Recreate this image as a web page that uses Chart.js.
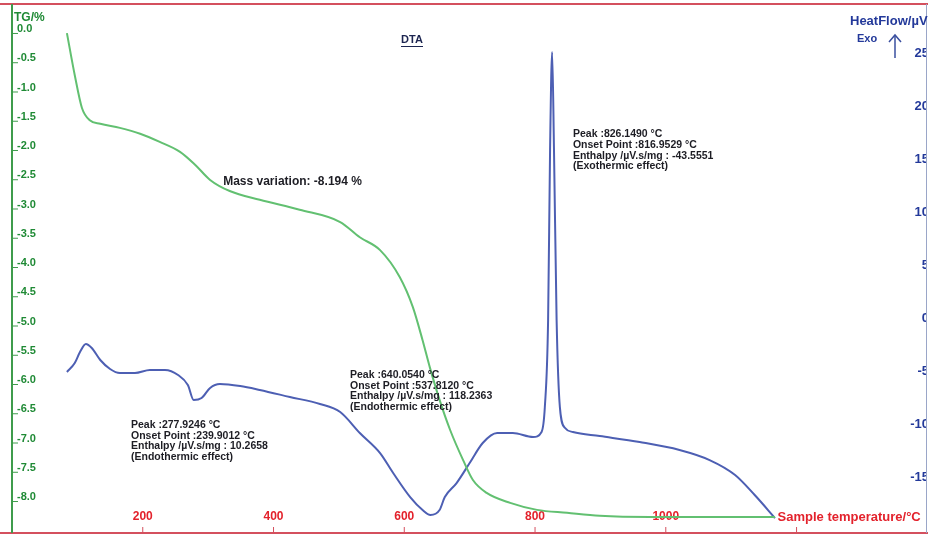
<!DOCTYPE html>
<html>
<head>
<meta charset="utf-8">
<title>TG / DTA</title>
<script src="https://cdn.jsdelivr.net/npm/chart.js@4.4.1/dist/chart.umd.min.js"></script>
<style>
  html, body { margin: 0; padding: 0; background: #ffffff; }
  #wrap { width: 928px; height: 536px; position: relative; }
</style>
</head>
<body>
<div id="wrap"><canvas id="c" width="928" height="536"></canvas></div>
<script>
// Thermogravimetric curve: sample temperature (°C) and mass change (%)
const tgTemp = [84, 96, 107, 119, 135, 165, 196, 226, 257, 280, 303, 333, 379, 440, 502, 532, 563,
  593, 613, 628, 639, 654, 670, 690, 705, 726, 762, 803, 849, 899, 976, 1052, 1167];
const tgMass = [-0.07, -0.79, -1.35, -1.56, -1.62, -1.69, -1.79, -1.93, -2.10, -2.32, -2.58, -2.77, -2.92,
  -3.09, -3.30, -3.56, -3.78, -4.24, -4.75, -5.32, -5.78, -6.34, -6.85, -7.37, -7.71, -7.93, -8.10,
  -8.22, -8.27, -8.32, -8.34, -8.34, -8.34];

// DTA curve: sample temperature (°C) and heat flow (µV)
const dtaTemp = [84, 96, 104, 113, 122, 135, 150, 165, 188, 211, 234, 254, 269, 277.9, 290, 303, 318,
  349, 379, 425, 471, 502, 532, 563, 583, 609, 628, 640.05, 654, 662, 680, 700, 720, 742, 766, 797,
  810, 815, 820, 823, 826.15, 829, 833, 838, 846, 858, 899, 960, 1021, 1067, 1106, 1136, 1167];
const dtaFlow = [-5.09, -4.25, -3.21, -2.45, -2.83, -3.96, -4.81, -5.19, -5.19, -4.91, -4.91, -5.38, -6.32,
  -7.74, -7.55, -6.60, -6.23, -6.42, -6.79, -7.45, -8.11, -8.87, -10.85, -12.74, -14.62, -16.89, -18.11,
  -18.58, -18.11, -16.89, -15.57, -13.68, -11.79, -10.85, -10.85, -11.23, -10.75, -8.40, -0.19, 15.85,
  25.09, 15.85, -0.19, -8.40, -10.38, -10.75, -11.13, -11.70, -12.45, -13.40, -14.81, -16.70, -18.87];

// Axis ticks
const tempTicks = [200, 400, 600, 800, 1000];
const tempAxisEndTick = 1200;
const tgTicks = [0, -0.5, -1, -1.5, -2, -2.5, -3, -3.5, -4, -4.5, -5, -5.5, -6, -6.5, -7, -7.5, -8];
const flowTicks = [25, 20, 15, 10, 5, 0, -5, -10, -15];

// Text notes: [temperature, heat flow, lines]
const notes = [
  [858, 17.3, ['Peak :826.1490 °C', 'Onset Point :816.9529 °C', 'Enthalpy /µV.s/mg : -43.5551', '(Exothermic effect)']],
  [517, -5.4, ['Peak :640.0540 °C', 'Onset Point :537.8120 °C', 'Enthalpy /µV.s/mg : 118.2363', '(Endothermic effect)']],
  [182, -10.1, ['Peak :277.9246 °C', 'Onset Point :239.9012 °C', 'Enthalpy /µV.s/mg : 10.2658', '(Endothermic effect)']]
];
const massNote = [323, 12.85, 'Mass variation: -8.194 %'];

const GREEN_LINE = '#62c071';
const BLUE_LINE = '#4d5fb3';
const GREEN_TEXT = '#1f8a35';
const BLUE_TEXT = '#23399a';
const RED_TEXT = '#e3222c';
const FONT = '"Liberation Sans", Arial, sans-serif';

const toPoints = (xs, ys) => xs.map((x, i) => ({ x: x, y: ys[i] }));

const decorations = {
  id: 'decorations',
  beforeDatasetsDraw(chart) {
    const ctx = chart.ctx;
    const a = chart.chartArea;
    const xs = chart.scales.x, yl = chart.scales.yTG, yr = chart.scales.yHF;
    ctx.save();
    // frame
    ctx.lineWidth = 2;
    ctx.strokeStyle = '#d4505e';
    ctx.beginPath(); ctx.moveTo(0, a.top); ctx.lineTo(928, a.top); ctx.stroke();
    ctx.beginPath(); ctx.moveTo(0, a.bottom); ctx.lineTo(928, a.bottom); ctx.stroke();
    ctx.strokeStyle = '#3f9c4c';
    ctx.beginPath(); ctx.moveTo(a.left, a.top); ctx.lineTo(a.left, a.bottom); ctx.stroke();
    ctx.lineWidth = 1;
    ctx.strokeStyle = '#9aa6c8';
    ctx.beginPath(); ctx.moveTo(a.right + 0.5, a.top); ctx.lineTo(a.right + 0.5, a.bottom); ctx.stroke();

    // left TG ticks
    ctx.font = 'bold 11px ' + FONT;
    ctx.fillStyle = GREEN_TEXT;
    ctx.strokeStyle = '#3f9c4c';
    ctx.textAlign = 'left';
    ctx.textBaseline = 'middle';
    tgTicks.forEach(v => {
      const py = yl.getPixelForValue(v);
      ctx.beginPath(); ctx.moveTo(a.left, py + 4.5); ctx.lineTo(a.left + 6, py + 4.5); ctx.stroke();
      ctx.fillText(v === 0 ? '0.0' : v.toFixed(1), a.left + 5, py);
    });

    // right heat-flow ticks, cut off by the right border
    ctx.save();
    ctx.beginPath();
    ctx.rect(a.left, a.top, a.right - a.left, a.bottom - a.top);
    ctx.clip();
    ctx.font = 'bold 13px ' + FONT;
    ctx.fillStyle = BLUE_TEXT;
    ctx.textAlign = 'right';
    flowTicks.forEach(v => {
      ctx.fillText(String(v), a.right + 3, yr.getPixelForValue(v));
    });
    ctx.restore();

    // bottom temperature ticks
    ctx.font = 'bold 12px ' + FONT;
    ctx.fillStyle = RED_TEXT;
    ctx.strokeStyle = '#d4505e';
    ctx.textAlign = 'center';
    ctx.textBaseline = 'middle';
    tempTicks.concat([tempAxisEndTick]).forEach(v => {
      const px = xs.getPixelForValue(v);
      ctx.beginPath(); ctx.moveTo(px, a.bottom - 6); ctx.lineTo(px, a.bottom); ctx.stroke();
    });
    tempTicks.forEach(v => {
      ctx.fillText(String(v), xs.getPixelForValue(v), a.bottom - 16);
    });
    ctx.textAlign = 'left';
    ctx.font = 'bold 13px ' + FONT;
    ctx.fillText('Sample temperature/°C', xs.getPixelForValue(tempAxisEndTick) - 19, a.bottom - 16);

    // axis titles
    ctx.font = 'bold 12px ' + FONT;
    ctx.fillStyle = GREEN_TEXT;
    ctx.fillText('TG/%', a.left + 2, 18);
    ctx.fillStyle = BLUE_TEXT;
    ctx.font = 'bold 13px ' + FONT;
    ctx.fillText('HeatFlow/µV', 850, 21);
    ctx.font = 'bold 11px ' + FONT;
    ctx.fillText('Exo', 857, 39);
    ctx.strokeStyle = '#3a4f9f';
    ctx.lineWidth = 1.5;
    ctx.beginPath(); ctx.moveTo(895, 58); ctx.lineTo(895, 35); ctx.stroke();
    ctx.beginPath(); ctx.moveTo(889, 42); ctx.lineTo(895, 35); ctx.lineTo(901, 42); ctx.stroke();

    // title
    ctx.fillStyle = '#1c2550';
    ctx.font = 'bold 11px ' + FONT;
    ctx.textAlign = 'center';
    ctx.fillText('DTA', 412, 40);
    ctx.lineWidth = 1;
    ctx.strokeStyle = '#1c2550';
    ctx.beginPath(); ctx.moveTo(401, 46.5); ctx.lineTo(423, 46.5); ctx.stroke();
    ctx.restore();
  },
  afterDatasetsDraw(chart) {
    const ctx = chart.ctx;
    const xs = chart.scales.x, yr = chart.scales.yHF;
    ctx.save();
    ctx.fillStyle = '#1d1d24';
    ctx.textAlign = 'left';
    ctx.textBaseline = 'middle';
    ctx.font = 'bold 10.5px ' + FONT;
    notes.forEach(n => {
      const px = xs.getPixelForValue(n[0]);
      const py = yr.getPixelForValue(n[1]);
      n[2].forEach((line, i) => ctx.fillText(line, px, py + i * 10.6));
    });
    ctx.font = 'bold 12px ' + FONT;
    ctx.fillText(massNote[2], xs.getPixelForValue(massNote[0]), yr.getPixelForValue(massNote[1]));
    ctx.restore();
  }
};

new Chart(document.getElementById('c'), {
  type: 'line',
  data: {
    datasets: [
      {
        label: 'TG',
        data: toPoints(tgTemp, tgMass),
        yAxisID: 'yTG',
        borderColor: GREEN_LINE,
        borderWidth: 2,
        pointRadius: 0,
        cubicInterpolationMode: 'monotone',
        fill: false
      },
      {
        label: 'DTA',
        data: toPoints(dtaTemp, dtaFlow),
        yAxisID: 'yHF',
        borderColor: BLUE_LINE,
        borderWidth: 2,
        pointRadius: 0,
        cubicInterpolationMode: 'monotone',
        fill: false
      }
    ]
  },
  options: {
    responsive: false,
    animation: false,
    layout: { padding: { left: 12, right: 2, top: 4, bottom: 3 } },
    plugins: { legend: { display: false }, tooltip: { enabled: false }, title: { display: false } },
    scales: {
      x: { type: 'linear', min: 0, max: 1398, display: false },
      yTG: { type: 'linear', position: 'left', min: -8.615, max: 0.427, display: false },
      yHF: { type: 'linear', position: 'right', min: -20.28, max: 29.62, display: false }
    }
  },
  plugins: [decorations]
});
</script>
</body>
</html>
